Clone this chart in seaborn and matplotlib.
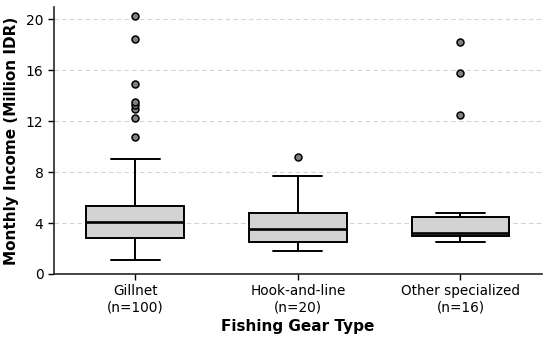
import matplotlib
matplotlib.use("Agg")
import matplotlib.pyplot as plt
import seaborn as sns
import pandas as pd

# Category names and tick labels
categories = ["Gillnet", "Hook-and-line", "Other specialized"]
tick_labels = ["Gillnet\n(n=100)", "Hook-and-line\n(n=20)", "Other specialized\n(n=16)"]

# Representative incomes (Million IDR) reproducing the box statistics
gillnet = [1.07, 1.5, 1.8, 2.0, 2.2, 2.4, 2.5, 2.6, 2.7, 2.8,
           3.0, 3.2, 3.4, 3.5, 3.6, 3.8, 3.9, 4.0, 4.1,
           4.2, 4.4, 4.5, 4.7, 4.8, 5.0, 5.1, 5.3, 5.36, 9.02,
           10.75, 12.26, 12.96, 13.23, 13.49, 14.88, 18.46, 20.26]
hook_and_line = [1.78, 2.2, 2.49, 3.0, 3.56, 4.2, 4.81, 7.66, 9.2]
other_specialized = [2.51, 2.7, 2.8, 2.9, 3.0, 3.1, 3.15, 3.2, 3.24,
                     3.5, 3.8, 4.1, 4.45, 4.76, 12.47, 15.8, 18.17]

y_ticks = [0, 4, 8, 12, 16, 20]

df = pd.DataFrame({
    "gear": [categories[0]] * len(gillnet)
            + [categories[1]] * len(hook_and_line)
            + [categories[2]] * len(other_specialized),
    "income": gillnet + hook_and_line + other_specialized,
})

sns.set_style("ticks")
plt.rcParams["font.family"] = ["DejaVu Sans"]
plt.rcParams["text.color"] = "black"
plt.rcParams["axes.labelcolor"] = "black"
plt.rcParams["xtick.color"] = "black"
plt.rcParams["ytick.color"] = "black"

fig = plt.figure(figsize=(5.5, 3.37), dpi=100)
ax = fig.add_axes([0.098, 0.187, 0.887, 0.792])

sns.boxplot(
    data=df, x="gear", y="income", order=categories, ax=ax,
    color="#d3d3d3", saturation=1, width=0.6, linecolor="black", linewidth=1.4,
    whis=1.5,
    flierprops=dict(marker="o", markerfacecolor="#808080", markeredgecolor="black",
                    markersize=5, markeredgewidth=1.1),
    medianprops=dict(color="black", linewidth=1.9),
)

ax.set_ylim(0, 20.95)
ax.set_xlim(-0.5, 2.5)
ax.set_yticks(y_ticks)
ax.set_xticks(range(len(categories)))
ax.set_xticklabels(tick_labels, fontsize=9.8)
ax.tick_params(axis="y", labelsize=10)
ax.tick_params(axis="both", length=4, width=1.0)
ax.yaxis.grid(True, linestyle=(0, (4, 3)), color="#d4d4d4", linewidth=0.8)
ax.set_axisbelow(True)
ax.set_xlabel("Fishing Gear Type", fontsize=11, fontweight="bold", labelpad=3)
ax.set_ylabel("Monthly Income (Million IDR)", fontsize=11, fontweight="bold", labelpad=5)
for s in ["top", "right"]:
    ax.spines[s].set_visible(False)
ax.spines["left"].set_linewidth(1.2)
ax.spines["bottom"].set_linewidth(1.2)

fig.savefig("out.png", dpi=100)
